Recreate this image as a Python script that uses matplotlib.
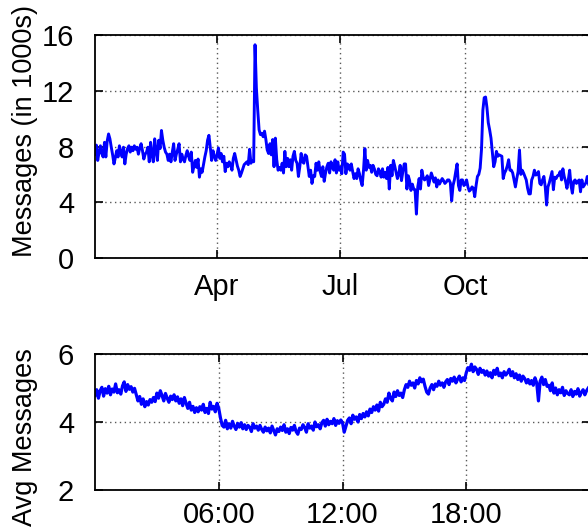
import numpy as np
import pandas as pd
import matplotlib
matplotlib.use('Agg')
import matplotlib.pyplot as plt

# daily messages (in 1000s), one list per month
jan = [7.45, 8.1, 7.0, 7.6, 8.05, 7.5, 7.25, 8.3, 7.25, 8.4, 8.9, 8.55, 7.95, 7.4, 6.75, 7.2,
       7.7, 7.25, 8.05, 7.6, 7.25, 7.95, 6.75, 7.45, 7.85, 8.05, 7.6, 7.95, 7.7, 8.05, 7.8]
feb = [7.95, 7.45, 7.9, 8.2, 7.7, 7.1, 7.45, 7.6, 7.95, 6.9, 8.3, 7.4, 6.9, 8.55, 7.7, 7.0,
       8.45, 7.85, 9.15, 8.45, 7.95, 7.6, 7.45, 7.0, 7.45, 6.9, 7.6, 8.2]
mar = [7.0, 7.45, 7.8, 8.2, 6.9, 7.45, 7.1, 6.9, 7.35, 7.7, 7.3, 7.0, 7.6, 6.15, 6.6, 7.0,
       6.5, 7.1, 5.8, 6.4, 6.15, 6.7, 7.25, 7.7, 8.45, 8.8, 7.95, 7.0, 7.7, 7.3, 7.0]
apr = [7.4, 7.9, 7.15, 7.5, 6.9, 7.3, 6.2, 6.8, 6.55, 6.9, 6.7, 6.3, 7.15, 7.5, 7.05, 6.6,
       6.3, 5.85, 6.1, 6.4, 6.7, 6.8, 6.9, 6.7, 7.8, 6.8, 7.0, 6.9, 15.3, 12.2]
may = [10.6, 9.2, 8.85, 8.95, 8.7, 9.1, 8.5, 7.75, 7.5, 8.2, 7.4, 8.5, 6.55, 8.6, 7.05, 6.3,
       6.5, 6.3, 6.8, 6.1, 7.65, 6.55, 7.15, 6.55, 7.05, 6.3, 7.3, 7.65, 7.0, 6.8, 5.85]
jun = [6.55, 7.5, 6.9, 6.8, 7.4, 7.3, 6.6, 5.85, 6.3, 5.35, 5.9, 5.85, 6.8, 6.3, 6.9, 6.2,
       5.85, 6.55, 5.5, 6.1, 6.55, 6.8, 6.1, 6.9, 6.5, 6.3, 7.05, 6.1, 6.9, 6.3]
jul = [6.5, 6.05, 7.6, 7.45, 6.05, 6.75, 6.65, 6.3, 6.75, 6.2, 5.7, 6.05, 5.7, 6.4, 6.05, 5.55,
       5.2, 6.3, 7.85, 6.3, 7.0, 6.5, 6.65, 6.15, 6.65, 6.4, 6.0, 5.9, 6.4, 6.2, 5.8]
aug = [6.4, 5.8, 6.15, 5.7, 6.5, 4.95, 6.65, 5.9, 7.0, 6.6, 6.15, 5.7, 6.05, 6.65, 5.55, 6.2,
       6.75, 6.75, 4.95, 5.9, 5.55, 4.85, 5.3, 4.95, 4.9, 3.15, 5.1, 5.7, 4.95, 6.3, 5.8]
sep = [5.6, 5.7, 5.9, 5.2, 5.65, 6.1, 5.8, 5.45, 5.75, 5.1, 5.6, 5.3, 5.5, 5.7, 5.55, 5.35,
       5.45, 5.6, 5.6, 5.4, 4.1, 5.2, 5.6, 6.2, 6.75, 5.2, 4.85, 5.6, 5.6, 5.2]
oct = [5.3, 5.6, 5.1, 4.8, 4.9, 5.1, 5.0, 4.4, 5.2, 5.85, 6.0, 6.45, 7.8, 10.6, 11.5, 11.55,
       10.8, 9.7, 9.2, 8.6, 7.6, 6.55, 6.9, 7.65, 7.3, 7.4, 7.35, 7.3, 5.7, 6.1, 6.3]
nov = [6.6, 7.05, 6.3, 6.3, 6.1, 5.6, 5.1, 5.7, 6.2, 7.75, 6.0, 6.3, 6.1, 5.85, 5.6, 5.0,
       4.6, 4.6, 5.6, 5.85, 6.3, 5.95, 6.0, 6.2, 5.35, 5.25, 5.6, 5.85, 5.1, 3.8]
dec = [5.1, 5.4, 5.8, 6.2, 4.9, 5.8, 5.7, 5.9, 5.95, 6.2, 5.6, 6.4, 5.85, 5.5, 5.0, 5.6,
       6.3, 5.2, 4.65, 5.5, 5.6, 5.35, 5.5, 5.6, 4.75, 5.6, 5.1, 5.25, 5.4, 5.85, 5.3]
month_ticks = ['2013-04-01', '2013-07-01', '2013-10-01']
month_labels = ['Apr', 'Jul', 'Oct']

# average messages per 5 minute slot, split by quarter of the day
avg_00_06 = [4.78, 4.95, 4.70, 4.92, 5.02, 4.76, 4.98, 4.85, 5.05, 4.80, 4.97, 4.88,
             5.12, 4.86, 4.95, 4.82, 5.06, 5.18, 4.90, 5.10, 4.96, 5.04, 4.88, 4.99,
             4.80, 4.62, 4.75, 4.52, 4.68, 4.45, 4.60, 4.50, 4.66, 4.58, 4.72, 4.60,
             4.85, 4.70, 4.92, 4.78, 4.62, 4.84, 4.70, 4.58, 4.76, 4.66, 4.80, 4.62,
             4.74, 4.55, 4.68, 4.48, 4.72, 4.55, 4.40, 4.58, 4.35, 4.46, 4.28, 4.42,
             4.30, 4.45, 4.35, 4.52, 4.28, 4.40, 4.25, 4.58, 4.38, 4.46, 4.30, 4.55]
avg_06_12 = [4.40, 4.12, 3.90, 3.85, 4.05, 3.80, 3.95, 3.82, 4.02, 3.88, 3.78, 3.96,
             3.85, 3.98, 3.80, 3.92, 3.78, 3.90, 3.85, 3.72, 3.95, 3.82, 3.88, 3.76,
             3.90, 3.78, 3.70, 3.85, 3.74, 3.82, 3.68, 3.88, 3.75, 3.62, 3.80, 3.72,
             3.85, 3.75, 3.92, 3.70, 3.80, 3.66, 3.84, 3.76, 3.90, 3.72, 3.64, 3.82,
             3.78, 3.92, 3.84, 3.70, 3.95, 3.82, 3.88, 3.76, 4.00, 3.86, 3.92, 3.80,
             3.98, 4.05, 3.88, 4.08, 3.92, 4.02, 3.95, 4.10, 3.90, 4.04, 3.96, 4.06]
avg_12_18 = [3.98, 3.70, 3.88, 4.05, 4.12, 3.95, 4.20, 4.08, 4.15, 4.00, 4.22, 4.10,
             4.25, 4.15, 4.30, 4.18, 4.38, 4.28, 4.45, 4.35, 4.50, 4.32, 4.58, 4.45,
             4.52, 4.68, 4.58, 4.85, 4.70, 4.62, 4.88, 4.75, 4.92, 4.78, 4.85, 4.72,
             4.95, 5.10, 5.02, 5.20, 5.08, 5.15, 5.00, 5.22, 5.12, 5.30, 5.18, 5.26,
             5.05, 4.88, 4.82, 5.00, 5.10, 4.95, 5.12, 5.05, 5.20, 5.08, 5.15, 5.02,
             5.18, 5.25, 5.10, 5.28, 5.20, 5.32, 5.15, 5.26, 5.35, 5.18, 5.30, 5.22]
avg_18_24 = [5.45, 5.60, 5.52, 5.70, 5.48, 5.62, 5.55, 5.40, 5.58, 5.46, 5.52, 5.38,
             5.50, 5.35, 5.45, 5.30, 5.52, 5.40, 5.58, 5.36, 5.44, 5.30, 5.48, 5.38,
             5.45, 5.55, 5.36, 5.48, 5.30, 5.42, 5.25, 5.38, 5.20, 5.35, 5.28, 5.15,
             5.25, 5.12, 5.22, 5.08, 5.30, 5.15, 4.62, 5.20, 5.32, 5.10, 5.25, 5.05,
             5.08, 4.92, 5.15, 4.85, 5.00, 4.80, 4.95, 4.86, 5.02, 4.78, 4.92, 4.84,
             4.80, 4.95, 4.75, 4.90, 4.82, 4.98, 4.76, 4.88, 4.95, 4.80, 4.92, 5.00]
hour_ticks = [6, 12, 18]
hour_labels = ['06:00', '12:00', '18:00']

plt.rcParams['font.family'] = ['Liberation Sans', 'DejaVu Sans']
plt.rcParams['font.size'] = 21

daily = jan + feb + mar + apr + may + jun + jul + aug + sep + oct + nov + dec
days = pd.date_range('2013-01-01', periods=len(daily), freq='D')
avg = avg_00_06 + avg_06_12 + avg_12_18 + avg_18_24
hours = np.arange(len(avg)) * 5 / 60.0


def style_axes(ax, xpad):
    ax.grid(True, color='0.35', linestyle=(0, (1, 2.5)), linewidth=1.0)
    ax.tick_params(direction='in', length=6, width=1.2, top=True, right=True,
                   labelsize=21)
    ax.tick_params(axis='x', pad=xpad)
    ax.tick_params(axis='y', pad=15)
    for s in ax.spines.values():
        s.set_linewidth(1.3)


fig = plt.figure(figsize=(5.88, 5.30), dpi=100)
ax1 = fig.add_axes([95 / 588, 272 / 530, 495 / 588, 223 / 530])
ax2 = fig.add_axes([95 / 588, 40 / 530, 495 / 588, 136 / 530])

ax1.plot(days, daily, color='#0000ff', linewidth=2.1)
ax1.set_xlim(pd.Timestamp('2013-01-01'), pd.Timestamp('2014-01-01'))
ax1.set_ylim(0, 16)
ax1.set_yticks([0, 4, 8, 12, 16])
ax1.set_xticks(pd.to_datetime(month_ticks))
ax1.set_xticklabels(month_labels)
ax1.set_ylabel('Messages (in 1000s)', fontsize=19.5)
ax1.yaxis.set_label_coords(-0.115, 0.57)
style_axes(ax1, 11)

ax2.plot(hours, avg, color='#0000ff', linewidth=2.3)
ax2.set_xlim(0, 24)
ax2.set_ylim(2, 6)
ax2.set_yticks([2, 4, 6])
ax2.set_xticks(hour_ticks)
ax2.set_xticklabels(hour_labels)
ax2.set_ylabel('Avg Messages', fontsize=19.5)
ax2.yaxis.set_label_coords(-0.115, 0.39)
style_axes(ax2, 8)

fig.savefig('out.png', dpi=100)
